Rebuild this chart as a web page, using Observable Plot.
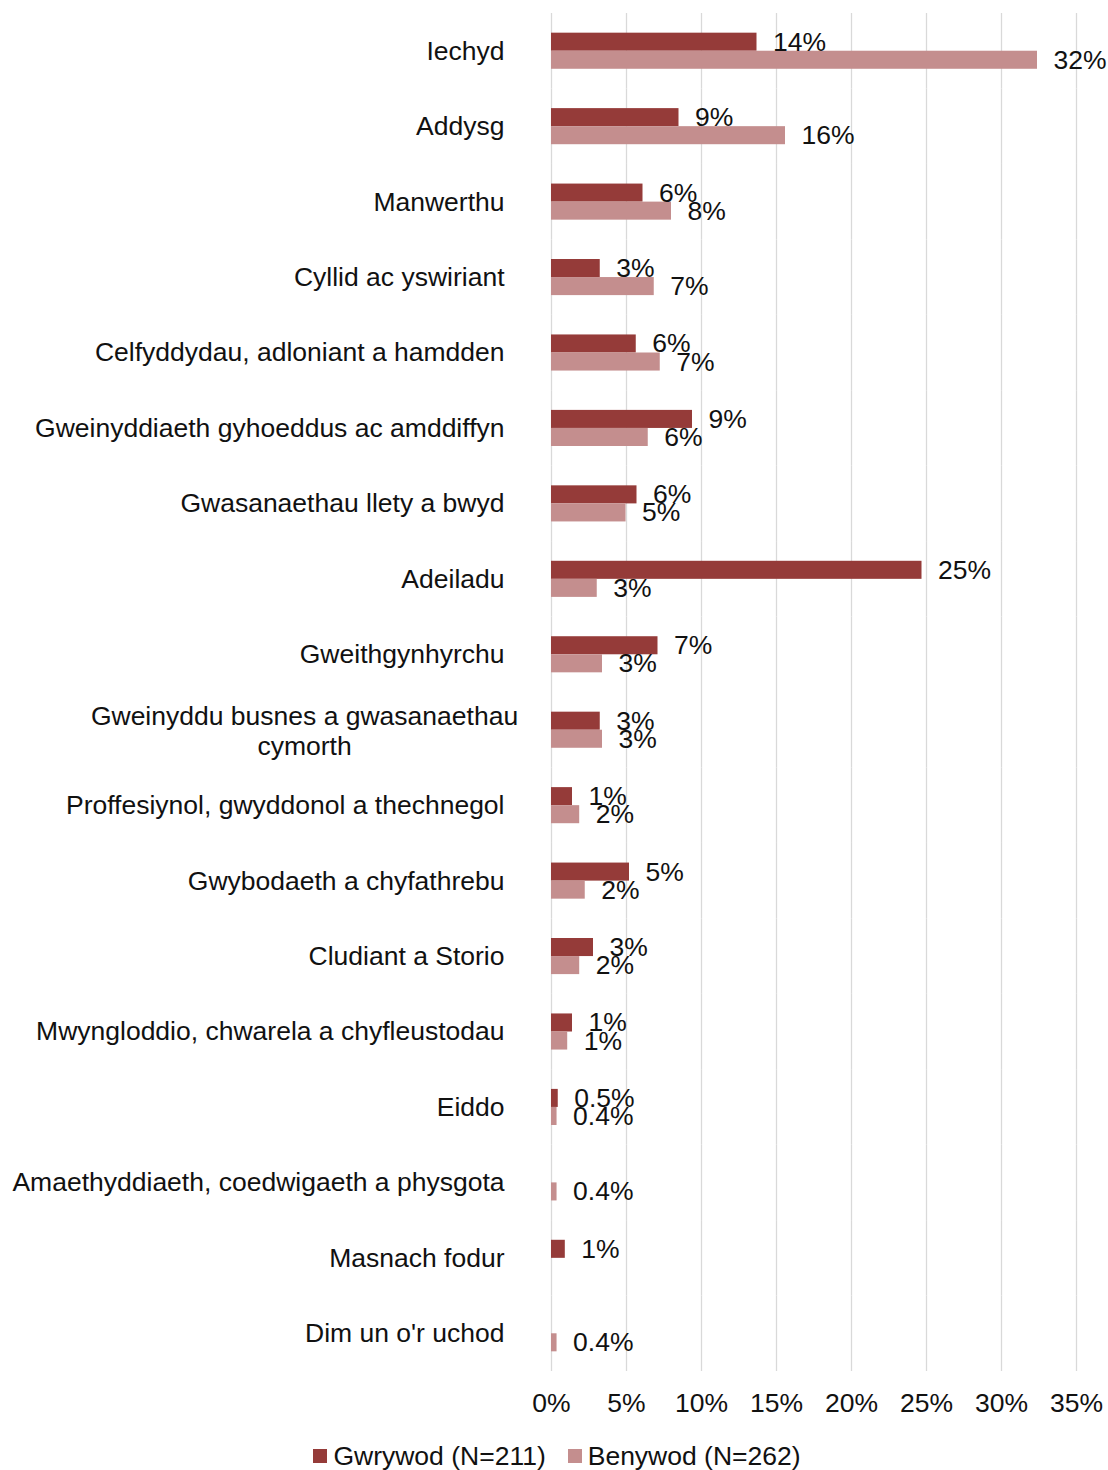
<!DOCTYPE html>
<html>
<head>
<meta charset="utf-8">
<script src="https://cdn.jsdelivr.net/npm/d3@7"></script>
<script src="https://cdn.jsdelivr.net/npm/@observablehq/plot@0.6"></script>
<style>
  html, body { margin: 0; padding: 0; background: #fff; }
  body { width: 1108px; font-family: "Liberation Sans", Arial, sans-serif; }
  #chart svg { display: block; }
  #legend { display: flex; justify-content: center; align-items: center; height: 40px; padding-top: 6px; margin-left: 6px; font-size: 26.5px; color: #111; }
  #legend .item { display: flex; align-items: center; }
  #legend .sw { width: 14px; height: 14px; margin-right: 6px; }
  #legend .item + .item { margin-left: 22px; }
</style>
</head>
<body>
<div id="chart"></div>
<div id="legend"></div>
<script>
const categories = [
  "Iechyd",
  "Addysg",
  "Manwerthu",
  "Cyllid ac yswiriant",
  "Celfyddydau, adloniant a hamdden",
  "Gweinyddiaeth gyhoeddus ac amddiffyn",
  "Gwasanaethau llety a bwyd",
  "Adeiladu",
  "Gweithgynhyrchu",
  "Gweinyddu busnes a gwasanaethau cymorth",
  "Proffesiynol, gwyddonol a thechnegol",
  "Gwybodaeth a chyfathrebu",
  "Cludiant a Storio",
  "Mwyngloddio, chwarela a chyfleustodau",
  "Eiddo",
  "Amaethyddiaeth, coedwigaeth a physgota",
  "Masnach fodur",
  "Dim un o'r uchod"
];
const seriesNames = ["Gwrywod (N=211)", "Benywod (N=262)"];
const seriesColors = ["#953b39", "#c48e8e"];
const gwrywod = [13.7, 8.5, 6.1, 3.25, 5.65, 9.4, 5.7, 24.7, 7.1, 3.25, 1.4, 5.2, 2.8, 1.4, 0.45, null, 0.92, null];
const benywod = [32.4, 15.6, 8.0, 6.85, 7.25, 6.45, 4.97, 3.05, 3.4, 3.4, 1.88, 2.25, 1.88, 1.08, 0.37, 0.37, null, 0.37];
const gwrywodLabels = ["14%", "9%", "6%", "3%", "6%", "9%", "6%", "25%", "7%", "3%", "1%", "5%", "3%", "1%", "0.5%", null, "1%", null];
const benywodLabels = ["32%", "16%", "8%", "7%", "7%", "6%", "5%", "3%", "3%", "3%", "2%", "2%", "2%", "1%", "0.4%", "0.4%", null, "0.4%"];
const xTicks = [0, 5, 10, 15, 20, 25, 30, 35];
const wrappedCategory = "Gweinyddu busnes a gwasanaethau cymorth";
const wrappedLabel = "Gweinyddu busnes a gwasanaethau\ncymorth";

const rows = [];
categories.forEach((c, i) => {
  if (gwrywod[i] != null) rows.push({category: c, series: seriesNames[0], value: gwrywod[i], label: gwrywodLabels[i]});
  if (benywod[i] != null) rows.push({category: c, series: seriesNames[1], value: benywod[i], label: benywodLabels[i]});
});
const catRows = categories.map(c => ({category: c}));

const FONT = "Liberation Sans, Arial, sans-serif";
const FS = 26.5;

const chart = Plot.plot({
  width: 1108,
  height: 1430,
  marginLeft: 551,
  marginRight: 32,
  marginTop: 13,
  marginBottom: 59,
  style: {fontFamily: FONT, fontSize: FS + "px", color: "#111", background: "#fff"},
  x: {domain: [0, 35], label: null},
  fy: {domain: categories, padding: 0, round: false, axis: null, label: null},
  y: {domain: seriesNames, paddingInner: 0, paddingOuter: 1.09, round: false, axis: null, label: null},
  color: {domain: seriesNames, range: seriesColors},
  marks: [
    Plot.gridX(xTicks, {stroke: "#d9d9d9", strokeOpacity: 1, strokeWidth: 1.3}),
    Plot.barX(rows, {x: "value", y: "series", fy: "category", fill: "series"}),
    Plot.text(rows, {x: "value", y: "series", fy: "category", text: "label", textAnchor: "start", dx: 16, fontSize: FS, fill: "#111"}),
    Plot.text(catRows.filter(d => d.category !== wrappedCategory), {fy: "category", text: "category", frameAnchor: "left", textAnchor: "end", dx: -47, fontSize: FS, fill: "#111"}),
    Plot.text(catRows.filter(d => d.category === wrappedCategory), {fy: "category", text: () => wrappedLabel, frameAnchor: "left", textAnchor: "middle", dx: -247, fontSize: FS, lineHeight: 1.15, fill: "#111"}),
    Plot.axisX(xTicks, {tickSize: 0, tickPadding: 22, tickFormat: d => d + "%", fontSize: FS, fill: "#111", label: null})
  ]
});
document.getElementById("chart").appendChild(chart);

const legend = document.getElementById("legend");
seriesNames.forEach((s, i) => {
  const item = document.createElement("div");
  item.className = "item";
  const sw = document.createElement("div");
  sw.className = "sw";
  sw.style.background = seriesColors[i];
  const t = document.createElement("span");
  t.textContent = s;
  item.appendChild(sw);
  item.appendChild(t);
  legend.appendChild(item);
});
</script>
</body>
</html>
